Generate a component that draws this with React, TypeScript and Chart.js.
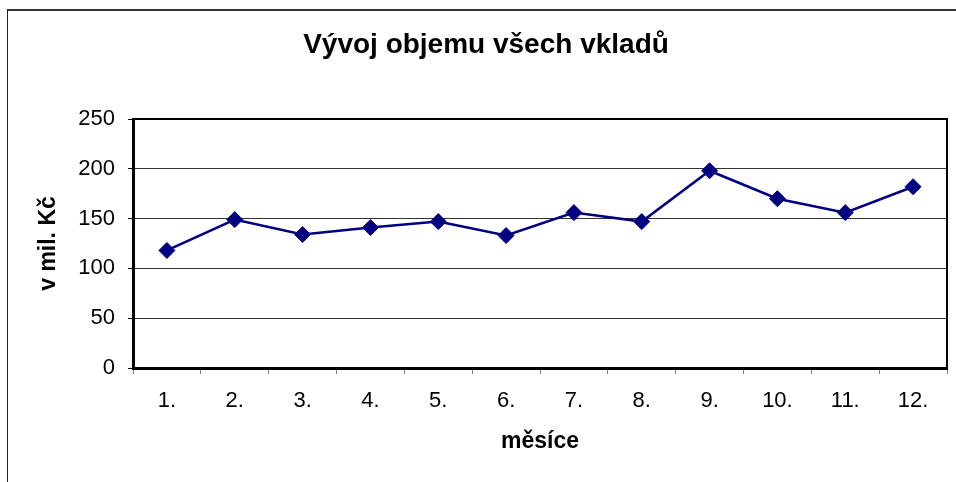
import React, { useEffect, useRef } from "react";
import { Chart, registerables } from "chart.js";

Chart.register(...registerables);

const chartTitle = "Vývoj objemu všech vkladů";
const xAxisTitle = "měsíce";
const yAxisTitle = "v mil. Kč";
const months = ["1.", "2.", "3.", "4.", "5.", "6.", "7.", "8.", "9.", "10.", "11.", "12."];
const deposits = [118, 149, 134, 141, 147, 133, 156, 147, 198, 170, 156, 182];
const yMin = 0;
const yMax = 250;
const yStep = 50;

const FONT = "'Liberation Sans', Arial, sans-serif";

const plotFrame = {
  id: "plotFrame",
  afterDraw(chart: any) {
    const { ctx, chartArea } = chart;
    ctx.save();
    ctx.strokeStyle = "#000";
    ctx.lineWidth = 2;
    ctx.beginPath();
    ctx.moveTo(chartArea.left, chartArea.top);
    ctx.lineTo(chartArea.right, chartArea.top);
    ctx.lineTo(chartArea.right, chartArea.bottom);
    ctx.stroke();
    ctx.restore();
  },
};

export default function App() {
  const canvasRef = useRef<HTMLCanvasElement | null>(null);

  useEffect(() => {
    if (!canvasRef.current) return;
    const chart = new Chart(canvasRef.current, {
      type: "line",
      data: {
        labels: months,
        datasets: [
          {
            data: deposits,
            borderColor: "#000080",
            backgroundColor: "#000080",
            borderWidth: 2.5,
            pointStyle: "rectRot",
            pointRadius: 8,
            pointBorderWidth: 1,
            pointBackgroundColor: "#000080",
            pointBorderColor: "#000080",
            tension: 0,
            fill: false,
          },
        ],
      },
      options: {
        animation: false,
        responsive: false,
        maintainAspectRatio: false,
        layout: { padding: { left: 25, right: 9, top: 0, bottom: 0 } },
        plugins: {
          legend: { display: false },
          tooltip: { enabled: false },
          title: {
            display: true,
            text: chartTitle,
            color: "#000",
            font: { family: FONT, size: 28, weight: "bold", lineHeight: 1.2 },
            padding: { top: 28.7, bottom: 56.7 },
          },
        },
        scales: {
          x: {
            type: "category",
            offset: true,
            afterFit: (s: any) => {
              s.height = 114;
            },
            grid: {
              offset: true,
              drawOnChartArea: false,
              drawTicks: true,
              tickLength: 6,
              tickColor: "#808080",
              tickWidth: 1,
            },
            border: { display: true, color: "#000", width: 3 },
            ticks: {
              color: "#000",
              font: { family: FONT, size: 22, lineHeight: 1.2 },
              padding: 14,
              maxRotation: 0,
              autoSkip: false,
            },
            title: {
              display: true,
              text: xAxisTitle,
              color: "#000",
              font: { family: FONT, size: 23, weight: "bold", lineHeight: 1.2 },
              padding: { top: 0, bottom: 27 },
            },
          },
          y: {
            min: yMin,
            max: yMax,
            afterFit: (s: any) => {
              s.width = 108;
            },
            grid: {
              color: "#333",
              lineWidth: 1,
              drawTicks: true,
              tickLength: 5,
              tickColor: "#000",
            },
            border: { display: true, color: "#000", width: 3 },
            ticks: {
              stepSize: yStep,
              color: "#000",
              font: { family: FONT, size: 22, lineHeight: 1.2 },
              padding: 13,
            },
            title: {
              display: true,
              text: yAxisTitle,
              color: "#000",
              font: { family: FONT, size: 23, weight: "bold", lineHeight: 1.2 },
              padding: { top: 10, bottom: 0 },
            },
          },
        },
      },
      plugins: [plotFrame],
    });
    return () => chart.destroy();
  }, []);

  return (
    <div style={{ position: "fixed", left: 0, top: 0, width: 956, height: 482, background: "#fff" }}>
      <div
        style={{
          position: "absolute",
          left: 7,
          top: 9,
          right: 0,
          bottom: 0,
          borderLeft: "1.5px solid #222",
          borderTop: "2px solid #333",
        }}
      />
      <canvas ref={canvasRef} width={956} height={482} style={{ position: "absolute", left: 0, top: 0 }} />
    </div>
  );
}
